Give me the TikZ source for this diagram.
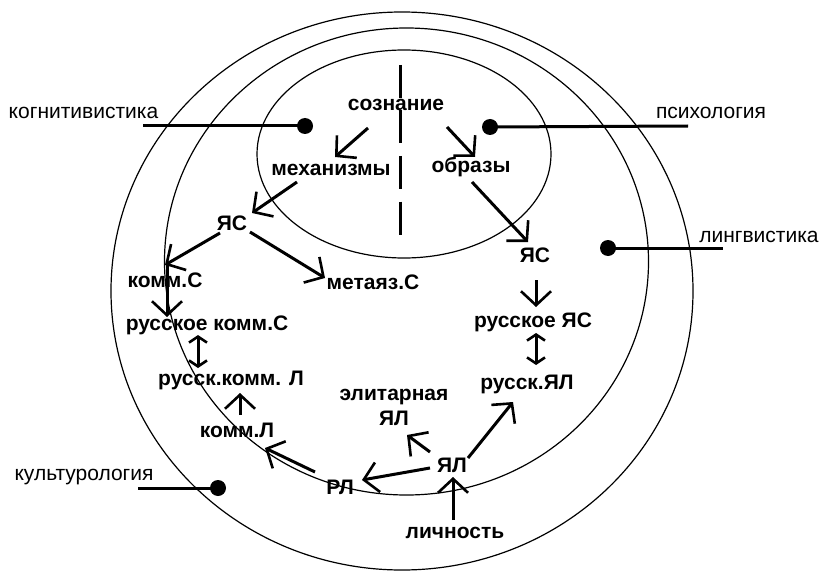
\documentclass[tikz,border=0pt]{standalone}
\usepackage{fontspec}
\setmainfont{Liberation Sans}
\usetikzlibrary{arrows.meta,calc}

\begin{document}
\begin{tikzpicture}[x=1pt,y=-1pt]
\tikzset{
 n/.style={font=\bfseries\fontsize{21}{25}\selectfont,inner sep=1pt,align=center},
 lbl/.style={font=\fontsize{21}{25}\selectfont,inner sep=1pt},
 ring/.style={line width=1.2pt},
 a/.style={line width=3pt,-{Straight Barb[length=14pt,width=30pt,line width=2.6pt]}},
 aa/.style={line width=3pt,{Straight Barb[length=6pt,width=18pt,line width=2.6pt]}-{Straight Barb[length=6pt,width=18pt,line width=2.6pt]}},
 lnk/.style={line width=3pt},
 dot/.style={circle,fill=black,inner sep=0pt,minimum size=16pt}
}
\useasboundingbox (0,0) rectangle (821,572);
% three fields
\draw[ring] (402,291) ellipse [x radius=291pt,y radius=279pt];
\draw[ring] (406.5,261.5) ellipse [x radius=242pt,y radius=233.5pt];
\draw[ring] (404,154) ellipse [x radius=147pt,y radius=104pt];
\draw[line width=3pt,dash pattern=on 33pt off 12.5pt] (400,65) -- (400,235);
% concepts
\node[n] (soz) at (396,105) {сознание};
\node[n] (meh) at (331,170) {механизмы};
\node[n] (obr) at (471,167) {образы};
\node[n] (jasL) at (232,223) {ЯС};
\node[n] (kommS) at (165,280) {комм.С};
\node[n] (meta) at (373,282) {метаяз.С};
\node[n] (ruskS) at (207,325) {русское комм.С};
\node[n] (ruskL) at (231,380) {русск.комм. Л};
\node[n] (elit) at (394,407.5) {элитарная\\ЯЛ};
\node[n] (kommL) at (237,430) {комм.Л};
\node[n] (rl) at (340,487) {РЛ};
\node[n] (jal) at (452,465) {ЯЛ};
\node[n] (lich) at (455,533) {личность};
\node[n] (jasR) at (535,255) {ЯС};
\node[n] (rusJS) at (533,322) {русское ЯС};
\node[n] (rusJL) at (527,384) {русск.ЯЛ};
% sciences
\node[lbl] (kog) at (83.5,113) {когнитивистика};
\node[lbl] (psy) at (711,113) {психология};
\node[lbl] (ling) at (759,237) {лингвистика};
\node[lbl] (kult) at (84,477) {культурология};
\node[dot] (dKog) at (305,126) {};
\node[dot] (dPsy) at (490,127) {};
\node[dot] (dLing) at (608,248) {};
\node[dot] (dKult) at (218,488) {};
\draw[lnk] ($(kog)+(59.5,13)$) -- (dKog.center);
\draw[lnk] (dPsy.center) -- ($(psy)+(-23,13)$);
\draw[lnk] (dLing.center) -- ($(ling)+(-36,11)$);
\draw[lnk] ($(kult)+(54,11)$) -- (dKult.center);
% arrows
\foreach \p/\dp/\q/\dq in {soz/{-28,23}/meh/{4,-13}, soz/{51,22}/obr/{4,-10},
 meh/{-34,12}/jasL/{20,-10}, obr/{1,15}/jasR/{-7,-13},
 jasL/{-12,10}/kommS/{0,-15}, jasL/{18,9}/meta/{-48,-4},
 kommS/{2,-15}/ruskS/{-40,-8}, kommL/{3,-15}/ruskL/{9,13},
 rl/{-25,-15}/kommL/{28,18}, jal/{-22,3}/rl/{22,-7},
 jal/{-22,-13}/elit/{13,27.5}, jal/{16,-7}/rusJL/{-14,18},
 lich/{-2,-13}/jal/{1,12}, jasR/{1,25}/rusJS/{3,-15}}
 {\draw[a] ($(\p)+(\dp)$) -- ($(\q)+(\dq)$);}
\draw[aa] ($(ruskS)+(-9,10)$) -- ($(ruskL)+(-33,-12)$);
\draw[aa] ($(rusJS)+(3,11)$) -- ($(rusJL)+(9,-19)$);
\end{tikzpicture}
\end{document}
